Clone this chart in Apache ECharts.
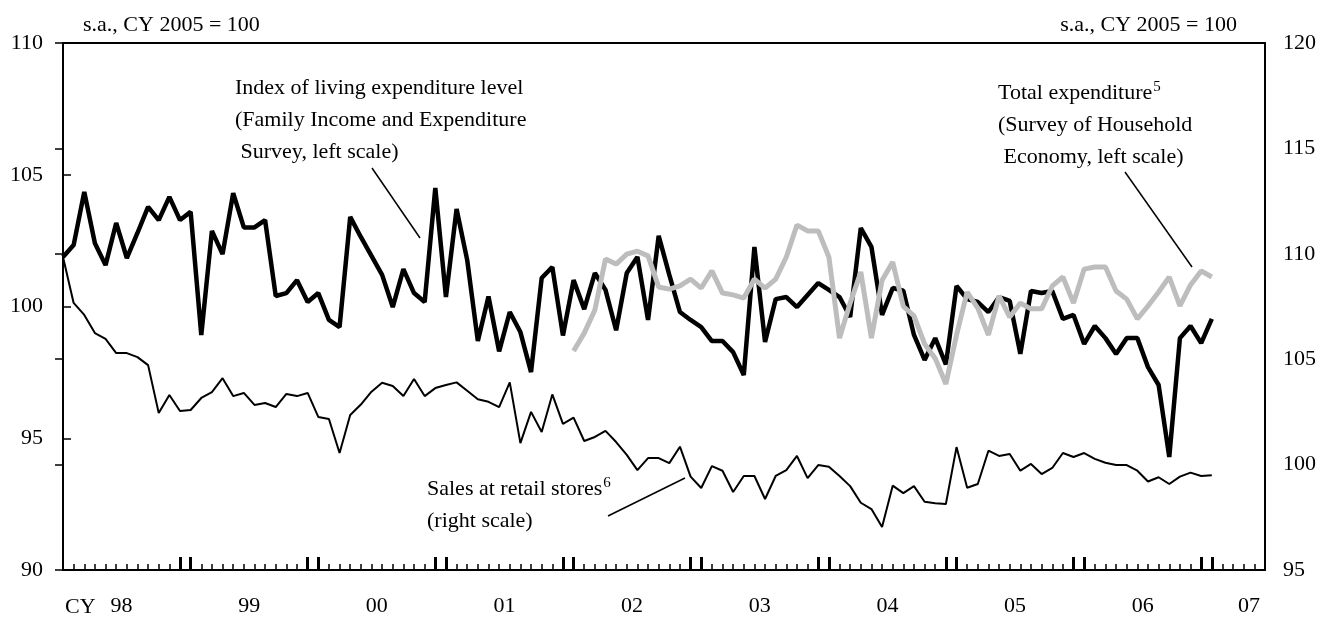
<!DOCTYPE html>
<html>
<head>
<meta charset="utf-8">
<script src="https://cdn.jsdelivr.net/npm/echarts@6/dist/echarts.min.js"></script>
<style>
  html, body { margin: 0; padding: 0; background: #fff; }
  #chart { width: 1324px; height: 617px; }
</style>
</head>
<body>
<div id="chart"></div>
<script>
// x = month index, 0 = Jan 1998
var yearLabels = ['98', '99', '00', '01', '02', '03', '04', '05', '06', '07'];
var yearLabelPos = [5.5, 17.5, 29.5, 41.5, 53.5, 65.5, 77.5, 89.5, 101.5, 111.5];

// Index of living expenditure level (left scale), Jan 1998 - Jan 2007
var livingIndex = [
    101.88, 102.33, 104.35, 102.4, 101.57, 103.17, 101.84, 102.79, 103.78, 103.28, 104.16, 103.28,
    103.59, 98.92, 102.87, 101.99, 104.3, 103.0, 103.0, 103.28, 100.4, 100.51, 101.0, 100.17,
    100.51, 99.49, 99.22, 103.4, 102.64, 101.92, 101.2, 99.98, 101.42, 100.51, 100.17, 104.5,
    100.36, 103.7, 101.76, 98.69, 100.38, 98.3, 99.79, 99.03, 97.51, 101.08, 101.5, 98.9,
    101.0, 99.9, 101.27, 100.63, 99.1, 101.27, 101.88, 99.49, 102.68, 101.2, 99.79, 99.49,
    99.22, 98.69, 98.69, 98.27, 97.4, 102.26, 98.65, 100.28, 100.36, 99.98, 100.44, 100.89,
    100.63, 100.36, 99.6, 102.98, 102.26, 99.68, 100.7, 100.6, 98.92, 97.97, 98.8, 97.8,
    100.78, 100.28, 100.17, 99.79, 100.36, 100.21, 98.2, 100.59, 100.51, 100.59, 99.53, 99.68,
    98.58, 99.26, 98.8, 98.2, 98.8, 98.8, 97.7, 97.02, 94.29, 98.8, 99.26, 98.61,
    99.53
];

// Total expenditure, Survey of Household Economy (left scale), Jan 2002 - Jan 2007
var totalStart = 48;
var totalExp = [
    98.31, 98.99, 99.87, 101.8, 101.61, 101.99, 102.1, 101.92, 100.74, 100.66, 100.78, 101.04,
    100.7, 101.35, 100.51, 100.44, 100.32, 101.04, 100.7, 101.04, 101.88, 103.09, 102.87, 102.87,
    101.88, 98.8, 100.13, 101.31, 98.8, 101.0, 101.69, 100.0, 99.64, 98.58, 98.03, 97.06,
    98.92, 100.55, 99.94, 98.92, 100.4, 99.6, 100.13, 99.91, 99.91, 100.78, 101.12, 100.13,
    101.42, 101.5, 101.5, 100.59, 100.28, 99.53, 100.02, 100.55, 101.12, 100.02, 100.82, 101.35,
    101.12
];

// Sales at retail stores (right scale), Jan 1998 - Jan 2007
var retailSales = [
    109.85, 107.67, 107.1, 106.24, 105.96, 105.29, 105.29, 105.1, 104.72, 102.45, 103.3, 102.54,
    102.59, 103.16, 103.44, 104.1, 103.25, 103.4, 102.83, 102.92, 102.73, 103.35, 103.25, 103.4,
    102.26, 102.16, 100.55, 102.35, 102.85, 103.46, 103.88, 103.73, 103.25, 104.06, 103.25, 103.63,
    103.78, 103.9, 103.5, 103.1, 102.98, 102.73, 103.9, 101.02, 102.5, 101.55, 103.33, 101.93,
    102.23, 101.12, 101.31, 101.6, 101.07, 100.46, 99.74, 100.31, 100.31, 100.07, 100.85, 99.43,
    98.89, 99.93, 99.71, 98.7, 99.46, 99.46, 98.37, 99.46, 99.74, 100.41, 99.36, 99.98,
    99.9, 99.46, 98.98, 98.19, 97.89, 97.04, 99.0, 98.65, 98.98, 98.24, 98.17, 98.13,
    100.83, 98.9, 99.08, 100.66, 100.41, 100.5, 99.71, 100.03, 99.55, 99.84, 100.55, 100.36,
    100.55, 100.27, 100.09, 99.98, 99.98, 99.71, 99.2, 99.4, 99.08, 99.43, 99.62, 99.46,
    99.5
];

var FONT = '"Liberation Serif", "Times New Roman", serif';

var monthTicks = [];
for (var m = 0; m <= 113; m++) monthTicks.push(m);
var yearTicks = [];
for (var y = 1; y <= 9; y++) yearTicks.push(12 * y - 1, 12 * y);

function pairs(arr, start) {
    return arr.map(function (v, i) { return [start + i, v]; });
}

// rich styles for notes with a superscript footnote number
var noteRich = {
    m: { fontFamily: FONT, fontSize: 22, lineHeight: 32, fill: '#000' },
    s: { fontFamily: FONT, fontSize: 15, verticalAlign: 'top', padding: [3, 0, 0, 1], fill: '#000' }
};

var myChart = echarts.init(document.getElementById('chart'));
var option = {
    animation: false,
    backgroundColor: '#fff',
    grid: {
        left: 63, right: 59, top: 43, bottom: 47,
        show: true, borderColor: '#000', borderWidth: 2
    },
    xAxis: [
        {
            type: 'value', min: 0, max: 113,
            axisLine: { show: true, lineStyle: { color: '#000', width: 2 } },
            axisTick: { show: true, inside: true, length: 6, customValues: monthTicks,
                lineStyle: { color: '#000', width: 1.5 } },
            axisLabel: {
                customValues: yearLabelPos, margin: 25,
                fontFamily: FONT, fontSize: 22, color: '#000',
                formatter: function (v) {
                    var k = yearLabelPos.indexOf(v);
                    return k >= 0 ? yearLabels[k] : '';
                }
            },
            splitLine: { show: false }
        },
        {
            type: 'value', min: 0, max: 113, position: 'bottom',
            axisLine: { show: false },
            axisTick: { show: true, inside: true, length: 13, customValues: yearTicks,
                lineStyle: { color: '#000', width: 3 } },
            axisLabel: { show: false },
            splitLine: { show: false }
        }
    ],
    yAxis: [
        {
            type: 'value', min: 90, max: 110, interval: 5, position: 'left',
            axisLine: { show: true, lineStyle: { color: '#000', width: 2 } },
            axisTick: { show: true, inside: true, length: 8, lineStyle: { color: '#000', width: 1.5 } },
            axisLabel: { margin: 20, fontFamily: FONT, fontSize: 22, color: '#000' },
            splitLine: { show: false }
        },
        {
            type: 'value', min: 95, max: 120, interval: 5, position: 'right',
            axisLine: { show: true, lineStyle: { color: '#000', width: 2 } },
            axisTick: { show: true, inside: true, length: 8, lineStyle: { color: '#000', width: 1.5 } },
            axisLabel: { margin: 18, fontFamily: FONT, fontSize: 22, color: '#000' },
            splitLine: { show: false }
        }
    ],
    series: [
        {
            name: 'Sales at retail stores', type: 'line', yAxisIndex: 1,
            data: pairs(retailSales, 0), symbol: 'none',
            lineStyle: { color: '#000', width: 2 }
        },
        {
            name: 'Index of living expenditure level', type: 'line', yAxisIndex: 0,
            data: pairs(livingIndex, 0), symbol: 'none',
            lineStyle: { color: '#000', width: 4.5 }
        },
        {
            name: 'Total expenditure', type: 'line', yAxisIndex: 0,
            data: pairs(totalExp, totalStart), symbol: 'none',
            lineStyle: { color: '#bdbdbd', width: 5 }
        }
    ],
    graphic: [
        { type: 'text', left: 83, top: 14,
          style: { text: 's.a., CY 2005 = 100', font: '22px ' + FONT, fill: '#000' } },
        { type: 'text', right: 87, top: 14,
          style: { text: 's.a., CY 2005 = 100', font: '22px ' + FONT, fill: '#000' } },
        { type: 'text', left: 65, top: 596,
          style: { text: 'CY', font: '22px ' + FONT, fill: '#000' } },
        { type: 'text', x: 235, y: 72,
          style: { text: 'Index of living expenditure level\n(Family Income and Expenditure\n Survey, left scale)',
                   font: '22px ' + FONT, fill: '#000', lineHeight: 32, verticalAlign: 'top' } },
        { type: 'line', shape: { x1: 372, y1: 168, x2: 420, y2: 238 },
          style: { stroke: '#000', lineWidth: 1.5 } },
        { type: 'text', x: 998, y: 77,
          style: { text: '{m|Total expenditure}{s|5}\n{m|(Survey of Household}\n{m| Economy, left scale)}',
                   fill: '#000', verticalAlign: 'top', rich: noteRich } },
        { type: 'line', shape: { x1: 1125, y1: 172, x2: 1192, y2: 267 },
          style: { stroke: '#000', lineWidth: 1.5 } },
        { type: 'text', x: 427, y: 473,
          style: { text: '{m|Sales at retail stores}{s|6}\n{m|(right scale)}',
                   fill: '#000', verticalAlign: 'top', rich: noteRich } },
        { type: 'line', shape: { x1: 608, y1: 516, x2: 685, y2: 478 },
          style: { stroke: '#000', lineWidth: 1.5 } }
    ]
};
if (option && typeof option === 'object') {
    myChart.setOption(option, true);
}
</script>
</body>
</html>
